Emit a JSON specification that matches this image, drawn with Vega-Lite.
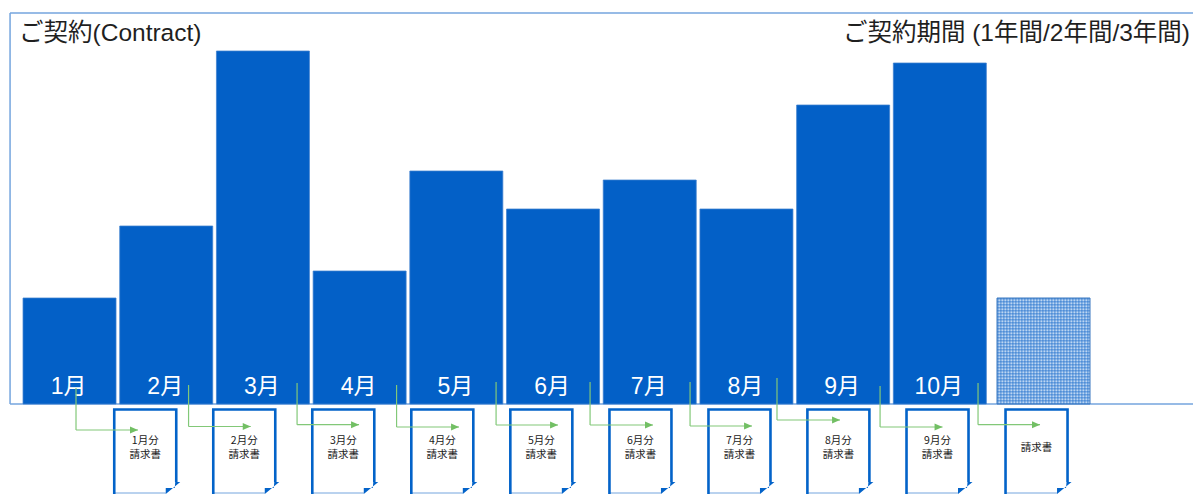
{"$schema":"https://vega.github.io/schema/vega-lite/v6.json","width":1193,"height":494,"autosize":{"type":"none"},"padding":0,"background":"white","view":{"stroke":null},"config":{"font":"Noto Sans CJK JP"},
"datasets":{"months":[{"month":1,"label":"1月","contract":106},{"month":2,"label":"2月","contract":178},{"month":3,"label":"3月","contract":353},{"month":4,"label":"4月","contract":133},{"month":5,"label":"5月","contract":233},{"month":6,"label":"6月","contract":195},{"month":7,"label":"7月","contract":224},{"month":8,"label":"8月","contract":195},{"month":9,"label":"9月","contract":299},{"month":10,"label":"10月","contract":341}],
"next":[{"from":10.592,"to":11.554,"center":11.072,"contract":106,"middle":53}],
"frame":[{"left":0.385,"right":12.618,"top":391,"bottom":0}],
"docs":[{"issued":1.783,"middle":-47,"text":"1月分\n請求書","textLevel":-37},{"issued":2.807,"middle":-47,"text":"2月分\n請求書","textLevel":-37},{"issued":3.831,"middle":-47,"text":"3月分\n請求書","textLevel":-37},{"issued":4.855,"middle":-47,"text":"4月分\n請求書","textLevel":-37},{"issued":5.879,"middle":-47,"text":"5月分\n請求書","textLevel":-37},{"issued":6.904,"middle":-47,"text":"6月分\n請求書","textLevel":-37},{"issued":7.928,"middle":-47,"text":"7月分\n請求書","textLevel":-37},{"issued":8.951,"middle":-47,"text":"8月分\n請求書","textLevel":-37},{"issued":9.976,"middle":-47,"text":"9月分\n請求書","textLevel":-37},{"issued":11.0,"middle":-47,"text":"請求書","textLevel":-44}],
"arrows":[{"from":1.067,"to":1.708,"start":16,"level":-26},{"from":2.231,"to":2.874,"start":19,"level":-22.5},{"from":3.353,"to":3.994,"start":21,"level":-20.7},{"from":4.382,"to":5.028,"start":19,"level":-23},{"from":5.411,"to":6.052,"start":22,"level":-21},{"from":6.383,"to":7.034,"start":22,"level":-21},{"from":7.417,"to":8.058,"start":22,"level":-22},{"from":8.316,"to":8.968,"start":26,"level":-16},{"from":9.382,"to":10.028,"start":18,"level":-23},{"from":10.395,"to":11.036,"start":21,"level":-20.7}],
"titles":[{"pos":0.478,"level":370,"text":"ご契約(Contract)"}],
"titlesRight":[{"pos":12.587,"level":370,"text":"ご契約期間 (1年間/2年間/3年間)"}]},
"encoding":{"x":{"type":"quantitative","scale":{"domain":[0.281,12.618],"nice":false,"zero":false,"padding":0},"axis":null},"y":{"type":"quantitative","scale":{"domain":[-90,404],"nice":false,"zero":false,"padding":0},"axis":null}},
"layer":[
{"data":{"name":"frame"},"mark":{"type":"rule","color":"#74a5de","strokeWidth":1.5},"encoding":{"x":{"field":"left"},"x2":{"field":"right"},"y":{"field":"top"}}},
{"data":{"name":"frame"},"mark":{"type":"rule","color":"#74a5de","strokeWidth":1.5},"encoding":{"x":{"field":"left"},"y":{"field":"bottom"},"y2":{"field":"top"}}},
{"data":{"name":"frame"},"mark":{"type":"rule","color":"#74a5de","strokeWidth":1.5},"encoding":{"x":{"field":"left"},"x2":{"field":"right"},"y":{"field":"bottom"}}},
{"data":{"name":"months"},"mark":{"type":"bar","orient":"vertical","width":93,"color":"#0360c7","stroke":"#3f80cf","strokeWidth":0.75},"encoding":{"x":{"field":"month"},"y":{"field":"contract","stack":null}}},
{"data":{"name":"next"},"mark":{"type":"bar","orient":"vertical","width":93,"color":"#bdd6f2"},"encoding":{"x":{"field":"center"},"y":{"field":"contract","stack":null}}},
{"data":{"name":"next"},"mark":{"type":"rule","color":"#1a6ccb","opacity":0.45,"strokeWidth":93,"strokeDash":[1.5,1.5]},"encoding":{"x":{"field":"center"},"y":{"field":"contract"},"y2":{"datum":0}}},
{"data":{"name":"next"},"mark":{"type":"rule","color":"#1a6ccb","opacity":0.45,"strokeWidth":106,"strokeDash":[1.5,1.5]},"encoding":{"x":{"field":"from"},"x2":{"field":"to"},"y":{"field":"middle"}}},
{"data":{"name":"next"},"mark":{"type":"bar","orient":"vertical","width":93,"fillOpacity":0,"stroke":"#3a78c0","strokeWidth":1},"encoding":{"x":{"field":"center"},"y":{"field":"contract","stack":null}}},
{"data":{"name":"months"},"mark":{"type":"text","color":"white","fontSize":23,"font":"Liberation Sans, Noto Sans CJK JP","dx":-1},"encoding":{"x":{"field":"month"},"y":{"datum":17},"text":{"field":"label"}}},
{"data":{"name":"docs"},"mark":{"type":"point","filled":true,"fill":"white","strokeWidth":0,"opacity":1,"shape":"M-0.62,-0.84 L0.62,-0.84 L0.62,0.62 L0.41,0.84 L-0.62,0.84 Z"},"encoding":{"x":{"field":"issued"},"y":{"field":"middle"},"size":{"value":10000}}},
{"data":{"name":"docs"},"mark":{"type":"point","filled":false,"stroke":"#74a5de","strokeWidth":1,"opacity":1,"shape":"M-0.62,0.84 L0.41,0.84"},"encoding":{"x":{"field":"issued"},"y":{"field":"middle"},"size":{"value":10000}}},
{"data":{"name":"docs"},"mark":{"type":"point","filled":false,"stroke":"#0363c9","strokeWidth":2.6,"opacity":1,"shape":"M-0.62,0.86 L-0.62,-0.83 L0.62,-0.83 L0.62,0.62"},"encoding":{"x":{"field":"issued"},"y":{"field":"middle"},"size":{"value":10000}}},
{"data":{"name":"docs"},"mark":{"type":"point","filled":true,"fill":"#0363c9","strokeWidth":0,"opacity":1,"shape":"M0.41,0.86 L0.7,0.62 L0.6,0.62 L0.59,0.74 L0.41,0.74 Z"},"encoding":{"x":{"field":"issued"},"y":{"field":"middle"},"size":{"value":10000}}},
{"data":{"name":"docs"},"mark":{"type":"text","color":"#1a1a1a","fontSize":10.5,"lineBreak":"\n","lineHeight":14,"baseline":"middle"},"encoding":{"x":{"field":"issued"},"y":{"field":"textLevel"},"text":{"field":"text"}}},
{"data":{"name":"arrows"},"mark":{"type":"rule","color":"#82c878","strokeWidth":1.2},"encoding":{"x":{"field":"from"},"y":{"field":"start"},"y2":{"field":"level"}}},
{"data":{"name":"arrows"},"mark":{"type":"rule","color":"#82c878","strokeWidth":1.2},"encoding":{"x":{"field":"from"},"x2":{"field":"to"},"y":{"field":"level"}}},
{"data":{"name":"arrows"},"mark":{"type":"point","filled":true,"fill":"#72bf64","strokeWidth":0,"opacity":1,"shape":"M-2,-0.875 L0,0 L-2,0.875 Z"},"encoding":{"x":{"field":"to"},"y":{"field":"level"},"size":{"value":64}}},
{"data":{"name":"titles"},"mark":{"type":"text","color":"#1f1f1f","fontSize":24.5,"align":"left","font":"Liberation Sans, Noto Sans CJK JP"},"encoding":{"x":{"field":"pos"},"y":{"field":"level"},"text":{"field":"text"}}},
{"data":{"name":"titlesRight"},"mark":{"type":"text","color":"#1f1f1f","fontSize":24.5,"align":"right","font":"Liberation Sans, Noto Sans CJK JP"},"encoding":{"x":{"field":"pos"},"y":{"field":"level"},"text":{"field":"text"}}}
]}
